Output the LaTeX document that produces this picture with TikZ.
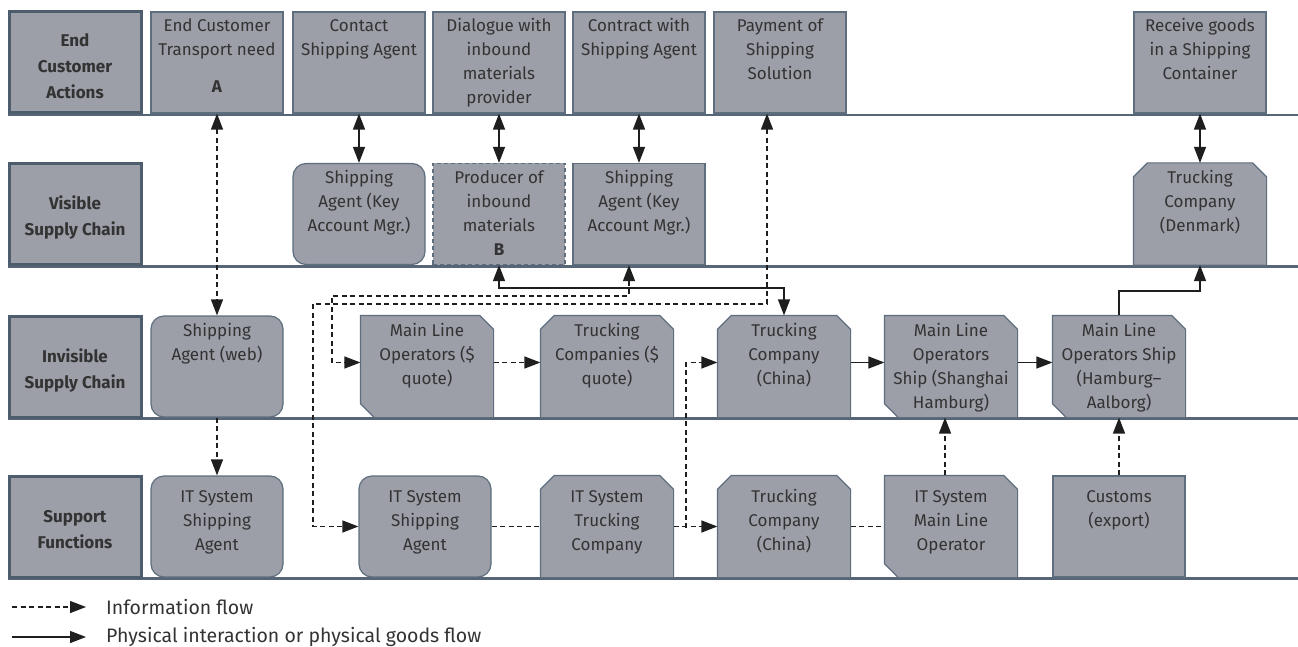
\documentclass[tikz,border=0pt]{standalone}
\usepackage{fontspec}
\setmainfont{Fira Sans}
\usetikzlibrary{arrows.meta}
\definecolor{boxfill}{HTML}{9C9EA8}
\definecolor{boxline}{HTML}{5E6E7E}
\definecolor{labline}{HTML}{4D5D6D}
\definecolor{lanecol}{HTML}{566676}
\definecolor{txt}{HTML}{333333}
\definecolor{conncol}{HTML}{1E1E1E}
\pgfdeclarelayer{bg}
\pgfsetlayers{bg,main}
\newcommand{\bxfont}{\fontsize{17}{24}\selectfont}
\newcommand{\bxt}[2]{\parbox[c][101pt][t]{132pt}{\centering\vspace*{#1pt}\strut #2}}
\newcommand{\lbt}[1]{\parbox[c][101pt][c]{132pt}{\centering\vspace*{7pt}#1}}
\newcommand{\chamTT}[1]{\filldraw[chamf] ([xshift=14pt]#1.north west) -- ([xshift=-14pt]#1.north east) -- ([yshift=-14pt]#1.north east) -- (#1.south east) -- (#1.south west) -- ([yshift=-14pt]#1.north west) -- cycle;}
\newcommand{\chamTRBL}[1]{\filldraw[chamf] (#1.north west) -- ([xshift=-14pt]#1.north east) -- ([yshift=-14pt]#1.north east) -- (#1.south east) -- ([xshift=14pt]#1.south west) -- ([yshift=14pt]#1.south west) -- cycle;}
\begin{document}
\begin{tikzpicture}[x=1pt,y=-1pt,
 box/.style={rectangle, minimum width=132pt, minimum height=101pt, inner sep=0pt, fill=boxfill, draw=boxline, line width=1.2pt, text=txt, font=\bxfont},
 rbox/.style={box, rounded corners=13pt},
 dbox/.style={box, dash pattern=on 4pt off 3pt},
 cbox/.style={box, fill=none, draw=none},
 chamf/.style={fill=boxfill, draw=boxline, line width=1.2pt},
 lab/.style={rectangle, minimum width=132pt, minimum height=101pt, inner sep=0pt, fill=boxfill, draw=labline, line width=3pt, text=txt, font=\bfseries\fontsize{17}{26}\selectfont},
 lane/.style={draw=lanecol, line width=2.6pt},
 conn/.style={draw=conncol, line width=1.3pt},
 info/.style={conn, dash pattern=on 5pt off 3.5pt},
 phys/.style={conn},
 arr/.style={-{Triangle[length=16pt,width=12pt]}},
 darr/.style={{Triangle[length=16pt,width=12pt]}-{Triangle[length=16pt,width=12pt]}},
 leg/.style={text=txt, font=\fontsize{19.5}{24}\selectfont, inner sep=0pt, anchor=west}
]
\useasboundingbox (0,0) rectangle (1298,647);

% lane labels
\node[lab] (lab1) at (75,62.5) {\lbt{End\\Customer\\Actions}};
\node[lab] (lab2) at (75,214) {\lbt{Visible\\Supply Chain}};
\node[lab] (lab3) at (75,366.5) {\lbt{Invisible\\Supply Chain}};
\node[lab] (lab4) at (75,526.5) {\lbt{Support\\Functions}};

% row 1
\node[box] (a) at (217,62.5) {\bxt{3}{End Customer\\Transport need\\[13pt]\textbf{A}}};
\node[box] (contact) at (359,62.5) {\bxt{3}{Contact\\Shipping Agent}};
\node[box] (dialogue) at (499,62.5) {\bxt{3}{Dialogue with\\inbound\\materials\\provider}};
\node[box] (contract) at (639,62.5) {\bxt{3}{Contract with\\Shipping Agent}};
\node[box] (pay) at (780,62.5) {\bxt{3}{Payment of\\Shipping\\Solution}};
\node[box] (receive) at (1200,62.5) {\bxt{3}{Receive goods\\in a Shipping\\Container}};

% row 2
\node[rbox] (sak1) at (359,214) {\bxt{3}{Shipping\\Agent (Key\\Account Mgr.)}};
\node[dbox] (prod) at (499,214) {\bxt{3}{Producer of\\inbound\\materials\\\textbf{B}}};
\node[box] (sak2) at (639,214) {\bxt{3}{Shipping\\Agent (Key\\Account Mgr.)}};
\node[cbox] (denmark) at (1200,214) {\bxt{3}{Trucking\\Company\\(Denmark)}};

% row 3
\node[rbox] (saweb) at (217,366.5) {\bxt{4}{Shipping\\Agent (web)}};
\node[cbox] (mloq) at (427,366.5) {\bxt{4}{Main Line\\Operators (\$\\quote)}};
\node[cbox] (tcq) at (607,366.5) {\bxt{4}{Trucking\\Companies (\$\\quote)}};
\node[cbox] (tc3) at (784,366.5) {\bxt{4}{Trucking\\Company\\(China)}};
\node[cbox] (mls1) at (951,366.5) {\bxt{4}{Main Line\\Operators\\Ship (Shanghai\\Hamburg)}};
\node[cbox] (mls2) at (1119,366.5) {\bxt{4}{Main Line\\Operators Ship\\(Hamburg–\\Aalborg)}};

% row 4
\node[rbox] (it1) at (217,526.5) {\bxt{10}{IT System\\Shipping\\Agent}};
\node[rbox] (it2) at (425,526.5) {\bxt{10}{IT System\\Shipping\\Agent}};
\node[cbox] (ittruck) at (607,526.5) {\bxt{10}{IT System\\Trucking\\Company}};
\node[cbox] (tc4) at (784,526.5) {\bxt{10}{Trucking\\Company\\(China)}};
\node[cbox] (itmlo) at (951,526.5) {\bxt{10}{IT System\\Main Line\\Operator}};
\node[box] (customs) at (1119,526.5) {\bxt{10}{Customs\\(export)}};

\begin{pgfonlayer}{bg}
\draw[lane] (8,115) -- (1298,115);
\draw[lane] (8,266.5) -- (1298,266.5);
\draw[lane] (8,418.5) -- (1298,418.5);
\draw[lane] (8,578.5) -- (1298,578.5);
\chamTT{denmark}
\chamTRBL{mloq}
\chamTT{tcq}
\chamTT{tc3}
\chamTRBL{mls1}
\chamTRBL{mls2}
\chamTT{ittruck}
\chamTT{tc4}
\chamTRBL{itmlo}
\end{pgfonlayer}

% junction points
\coordinate (jA) at (332,296);
\coordinate (jB) at (313,304);
\coordinate (jC) at (784,288);
\coordinate (jD) at (686,528);
\coordinate (jE) at (1200,291);

% row 1 <-> row 2
\draw[info,darr] (a.south) -- (saweb.north);
\draw[phys,darr] (contact.south) -- (sak1.north);
\draw[phys,darr] (dialogue.south) -- (prod.north);
\draw[phys,darr] (contract.south) -- (sak2.north);
\draw[phys,darr] (receive.south) -- (denmark.north);

% long routed connectors
\draw[info,darr] ([xshift=-10pt]sak2.south) |- (jA) |- ([yshift=4pt]mloq.west);
\draw[info,darr] ([xshift=-13pt]pay.south) |- (jB) |- (it2.west);
\draw[phys,darr] (prod.south) |- (jC) -- (tc3.north);

% row 3
\draw[info,arr] ([yshift=4pt]mloq.east) -- ([yshift=4pt]tcq.west);
\draw[phys,arr] ([yshift=4pt]tc3.east) -- ([yshift=4pt]mls1.west);
\draw[phys,arr] ([yshift=4pt]mls1.east) -- ([yshift=4pt]mls2.west);
\draw[phys,arr] (mls2.north) |- (jE) -- (denmark.south);

% row 3 <-> row 4
\draw[info,arr] (saweb.south) -- (it1.north);
\draw[info,arr] ([xshift=-6pt]itmlo.north) -- ([xshift=-6pt]mls1.south);
\draw[info,arr] (customs.north) -- (mls2.south);

% row 4
\draw[info] (it2.east) -- (ittruck.west);
\draw[info,arr] (ittruck.east) -- (tc4.west);
\draw[info,arr] (jD) |- ([yshift=4pt]tc3.west);
\draw[info] (tc4.east) -- (itmlo.west);

% legend
\coordinate (l1a) at (12,607);
\coordinate (l1b) at (86,607);
\coordinate (l2a) at (12,637);
\coordinate (l2b) at (86,637);
\draw[info,arr] (l1a) -- (l1b);
\draw[phys,arr] (l2a) -- (l2b);
\node[leg] (l1t) at (106,607) {Information flow};
\node[leg] (l2t) at (106,637) {Physical interaction or physical goods flow};
\end{tikzpicture}
\end{document}
